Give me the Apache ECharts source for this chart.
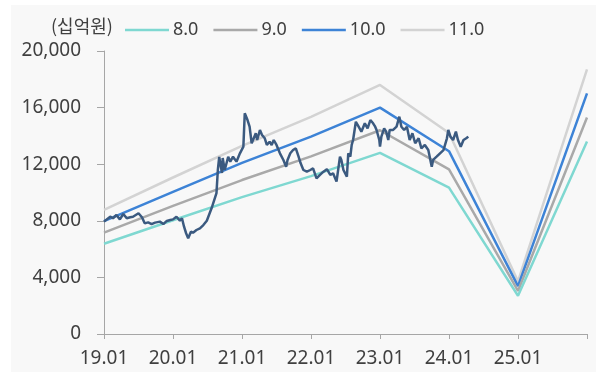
<!DOCTYPE html>
<html>
<head>
<meta charset="utf-8">
<script src="https://cdn.jsdelivr.net/npm/echarts@6/dist/echarts.min.js"></script>
<style>
  html, body { margin: 0; padding: 0; background: #fff; }
  #chart { width: 612px; height: 374px; }
</style>
</head>
<body>
<div id="chart"></div>
<script>
// 연초 기준 밴드 (19.01 ~ 26.01)
const bandYears = [2019, 2020, 2021, 2022, 2023, 2024, 2025, 2026]
const band8 = [6380, 8040, 9670, 11160, 12800, 10340, 2700, 13600]
const band9 = [7170, 9050, 10880, 12550, 14400, 11630, 3040, 15300]
const band10 = [7970, 10050, 12090, 13950, 16000, 12920, 3380, 17000]
const band11 = [8770, 11060, 13300, 15340, 17600, 14210, 3720, 18700]

// 시가총액 (읽어낸 값)
const capYears = [
  2019.00, 2019.04, 2019.09, 2019.13, 2019.18, 2019.23, 2019.28, 2019.33, 2019.38, 2019.42,
  2019.50, 2019.55, 2019.59, 2019.64, 2019.69, 2019.74, 2019.81, 2019.86, 2019.91, 2019.96,
  2020.00, 2020.05, 2020.10, 2020.13, 2020.16, 2020.19, 2020.22, 2020.26, 2020.29, 2020.34,
  2020.39, 2020.44, 2020.49, 2020.56, 2020.63, 2020.65, 2020.67, 2020.71, 2020.72, 2020.75,
  2020.80, 2020.83, 2020.87, 2020.92, 2020.97, 2021.02, 2021.04, 2021.08, 2021.11, 2021.14,
  2021.16, 2021.20, 2021.22, 2021.26, 2021.29, 2021.33, 2021.36, 2021.40, 2021.43, 2021.46,
  2021.50, 2021.55, 2021.60, 2021.64, 2021.66, 2021.70, 2021.74, 2021.78, 2021.82, 2021.85,
  2021.89, 2021.94, 2021.99, 2022.03, 2022.08, 2022.13, 2022.18, 2022.23, 2022.28, 2022.32,
  2022.37, 2022.42, 2022.44, 2022.47, 2022.52, 2022.54, 2022.57, 2022.59, 2022.61, 2022.65,
  2022.69, 2022.73, 2022.78, 2022.82, 2022.86, 2022.90, 2022.93, 2022.95, 2022.99, 2023.00,
  2023.02, 2023.06, 2023.09, 2023.12, 2023.14, 2023.19, 2023.24, 2023.28, 2023.31, 2023.35,
  2023.39, 2023.43, 2023.47, 2023.51, 2023.56, 2023.60, 2023.65, 2023.70, 2023.75, 2023.77,
  2023.82, 2023.87, 2023.92, 2023.97, 2023.99, 2024.02, 2024.06, 2024.10, 2024.13, 2024.17,
  2024.21, 2024.25, 2024.28
]
const capValues = [
  7940, 8100, 8290, 8180, 8410, 8100, 8480, 8180, 8250, 8290,
  8530, 8250, 7820, 7890, 7770, 7870, 7940, 7770, 7990, 8060,
  8100, 8290, 8010, 8180, 7580, 7120, 6760, 7230, 7160, 7350,
  7470, 7700, 8000, 8900, 9960, 11590, 12510, 11380, 12440, 11590,
  12530, 12180, 12530, 12180, 12770, 13240, 15600, 15120, 14650, 13480,
  13360, 14180, 13710, 14420, 14060, 13830, 13360, 13590, 13360, 13710,
  13360, 12770, 12300, 11820, 12300, 12770, 13000, 13120, 12530, 12060,
  11590, 11470, 11590, 11710, 11000, 11240, 11470, 11650, 11240, 11360,
  10770, 12530, 12300, 11590, 11120, 12770, 12530, 13360, 13710, 15000,
  14650, 14300, 14890, 14530, 15120, 14890, 14650, 14420, 13710, 13240,
  13950, 14530, 14300, 13710, 14420, 14420, 14650, 15360, 14650, 14420,
  14650, 13710, 14180, 13480, 13830, 13120, 13360, 13000, 11820, 12300,
  12530, 12770, 13000, 13830, 14420, 13950, 13710, 14300, 13710, 13240,
  13710, 13830, 13950
]

const bandNames = ['8.0', '9.0', '10.0', '11.0']
const bandColors = ['#7fd8d1', '#a9a9a9', '#3d83d6', '#d3d3d3']
const bandData = [band8, band9, band10, band11]

const chart = echarts.init(document.getElementById('chart'))

const bandSeries = bandNames.map((name, i) => ({
  name: name,
  type: 'line',
  data: bandYears.map((y, j) => [y, bandData[i][j]]),
  showSymbol: false,
  symbol: 'none',
  color: bandColors[i],
  lineStyle: { width: 2.5, color: bandColors[i] },
  z: 2 + (3 - i),
  silent: true
}))

const option = {
  animation: false,
  textStyle: { fontFamily: 'Noto Sans, Noto Sans CJK KR, sans-serif', color: '#404040' },
  graphic: [
    {
      type: 'rect',
      shape: { x: 11, y: 5, width: 585, height: 367 },
      style: { fill: '#f8f8f8' },
      z: -10
    },
    {
      type: 'text',
      left: 51,
      top: 17,
      style: {
        text: '(십억원)',
        font: '18px "Noto Sans CJK KR", sans-serif',
        fill: '#404040'
      }
    }
  ],
  legend: {
    left: 120,
    top: 16,
    icon: 'rect',
    itemWidth: 44,
    itemHeight: 2.5,
    itemGap: 15,
    textStyle: { fontSize: 18, color: '#404040', padding: [0, 0, 0, -1] },
    data: bandNames
  },
  grid: {
    left: 104,
    right: 25,
    top: 51,
    bottom: 40,
    outerBoundsMode: 'none'
  },
  xAxis: {
    type: 'value',
    min: 2019,
    max: 2026,
    interval: 1,
    axisLine: { lineStyle: { color: '#a6a6a6', width: 1 } },
    axisTick: { show: true, length: 5, lineStyle: { color: '#a6a6a6' } },
    splitLine: { show: false },
    axisLabel: {
      fontSize: 19,
      color: '#404040',
      margin: 15,
      formatter: v => (v === 2026 ? '' : String(v).slice(2) + '.01')
    }
  },
  yAxis: {
    type: 'value',
    min: 0,
    max: 20000,
    interval: 4000,
    axisLine: { show: true, lineStyle: { color: '#a6a6a6', width: 1 } },
    axisTick: { show: true, length: 7, lineStyle: { color: '#a6a6a6' } },
    splitLine: { show: false },
    axisLabel: {
      fontSize: 19,
      color: '#404040',
      margin: 23,
      formatter: v => v.toLocaleString('en-US')
    }
  },
  series: [
    ...bandSeries,
    {
      name: '시가총액',
      type: 'line',
      data: capYears.map((y, i) => [y, capValues[i]]),
      showSymbol: false,
      symbol: 'none',
      lineStyle: { width: 2.5, color: '#3b5a80' },
      z: 10,
      silent: true
    }
  ]
}

chart.setOption(option)
</script>
</body>
</html>
